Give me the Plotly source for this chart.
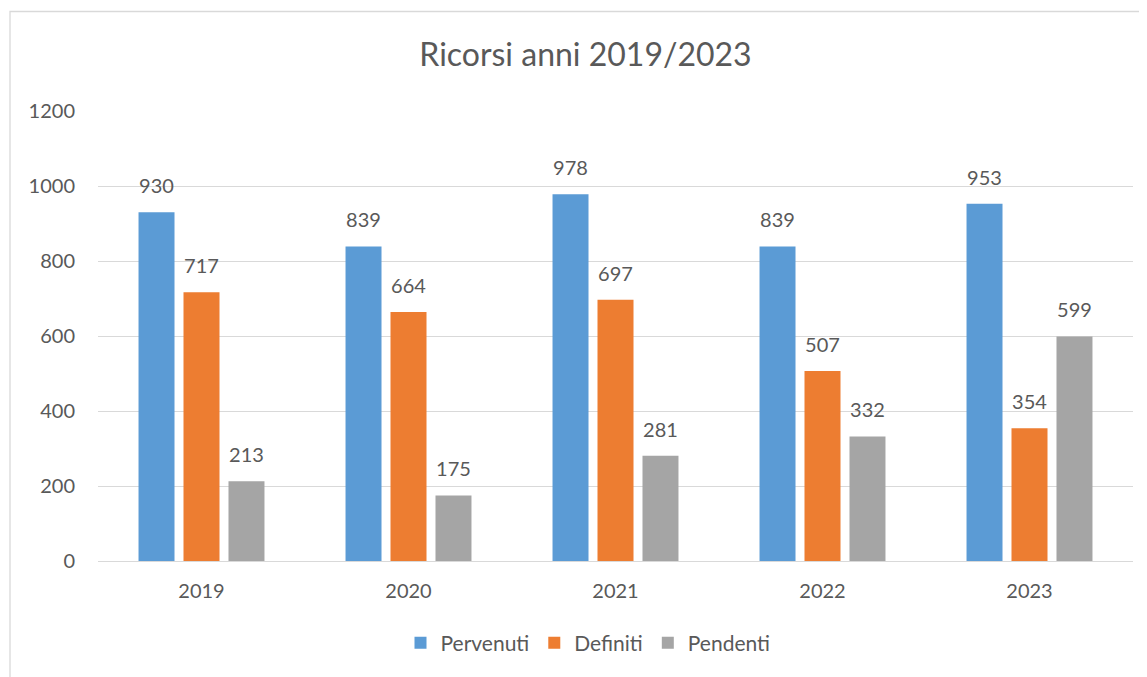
import plotly.graph_objects as go

years = ["2019", "2020", "2021", "2022", "2023"]
series_names = ["Pervenuti", "Definiti", "Pendenti"]
pervenuti = [930, 839, 978, 839, 953]
definiti = [717, 664, 697, 507, 354]
pendenti = [213, 175, 281, 332, 599]
y_ticks = [0, 200, 400, 600, 800, 1000, 1200]

colors = ["#5B9BD5", "#ED7D31", "#A5A5A5"]
txt = "#595959"
grid = "#D9D9D9"
FONT = "Lato"

# the page body has an 8px margin; work in reference pixel coords and shift
OFF = 8
W, H = 1147 - OFF, 677 - OFF
L, R, T = 98 - OFF, 14, 111 - OFF
ph = 450
B = H - T - ph
pw = W - L - R


def px_x(x):  # reference x pixel -> paper
    return (x - OFF - L) / pw


def px_y(y):  # reference y pixel -> paper
    return (T + ph - (y - OFF)) / ph


fig = go.Figure()
all_vals = [pervenuti, definiti, pendenti]
for i, (name, vals) in enumerate(zip(series_names, all_vals)):
    fig.add_trace(go.Bar(
        x=years, y=vals, name=name,
        marker=dict(color=colors[i], line=dict(width=0)),
        offsetgroup=str(i),
        hoverinfo="skip",
    ))
for i, (name, vals) in enumerate(zip(series_names, all_vals)):
    fig.add_trace(go.Scatter(
        x=years, y=vals, mode="markers+text",
        text=[str(v) for v in vals], textposition="top center",
        textfont=dict(family=FONT, size=20, color=txt),
        marker=dict(size=21, opacity=0),
        orientation="v", offsetgroup=str(i),
        showlegend=False, hoverinfo="skip", cliponaxis=False,
    ))

# chart border (light gray frame, cropped at right/bottom)
fig.add_shape(
    type="rect", xref="paper", yref="paper",
    x0=px_x(10), x1=px_x(1170),
    y0=px_y(700), y1=px_y(11.5),
    line=dict(color=grid, width=1.3), fillcolor="rgba(0,0,0,0)", layer="below",
)

fig.update_layout(
    width=W, height=H,
    margin=dict(l=L, r=R, t=T, b=B, autoexpand=False),
    paper_bgcolor="white", plot_bgcolor="white",
    font=dict(family=FONT, size=20, color=txt),
    title=dict(text="Ricorsi anni 2019/2023", xref="container", yref="container",
               x=(585.5 - OFF) / W, xanchor="center", y=1 - (55 - OFF) / H, yanchor="middle",
               font=dict(family=FONT, size=32, color=txt)),
    barmode="group", bargap=0.348, bargroupgap=0.2,
    scattermode="group", scattergap=0.348,
    legend=dict(orientation="h", x=px_x(588), xanchor="center", y=px_y(643),
                yanchor="middle", font=dict(family=FONT, size=21, color=txt),
                itemwidth=30, tracegroupgap=0, bgcolor="rgba(0,0,0,0)"),
    showlegend=True,
)
fig.update_xaxes(type="category", showgrid=False, showline=True, linecolor=grid, linewidth=1.3,
                 ticks="", tickfont=dict(family=FONT, size=20, color=txt),
                 ticklabelstandoff=12, zeroline=False)
fig.update_yaxes(range=[0, 1200], tickvals=y_ticks, showgrid=True, gridcolor=grid, gridwidth=1.3,
                 zeroline=False, showline=False, ticks="",
                 tickfont=dict(family=FONT, size=20, color=txt), ticklabelstandoff=22)

fig.write_html("out.html")
